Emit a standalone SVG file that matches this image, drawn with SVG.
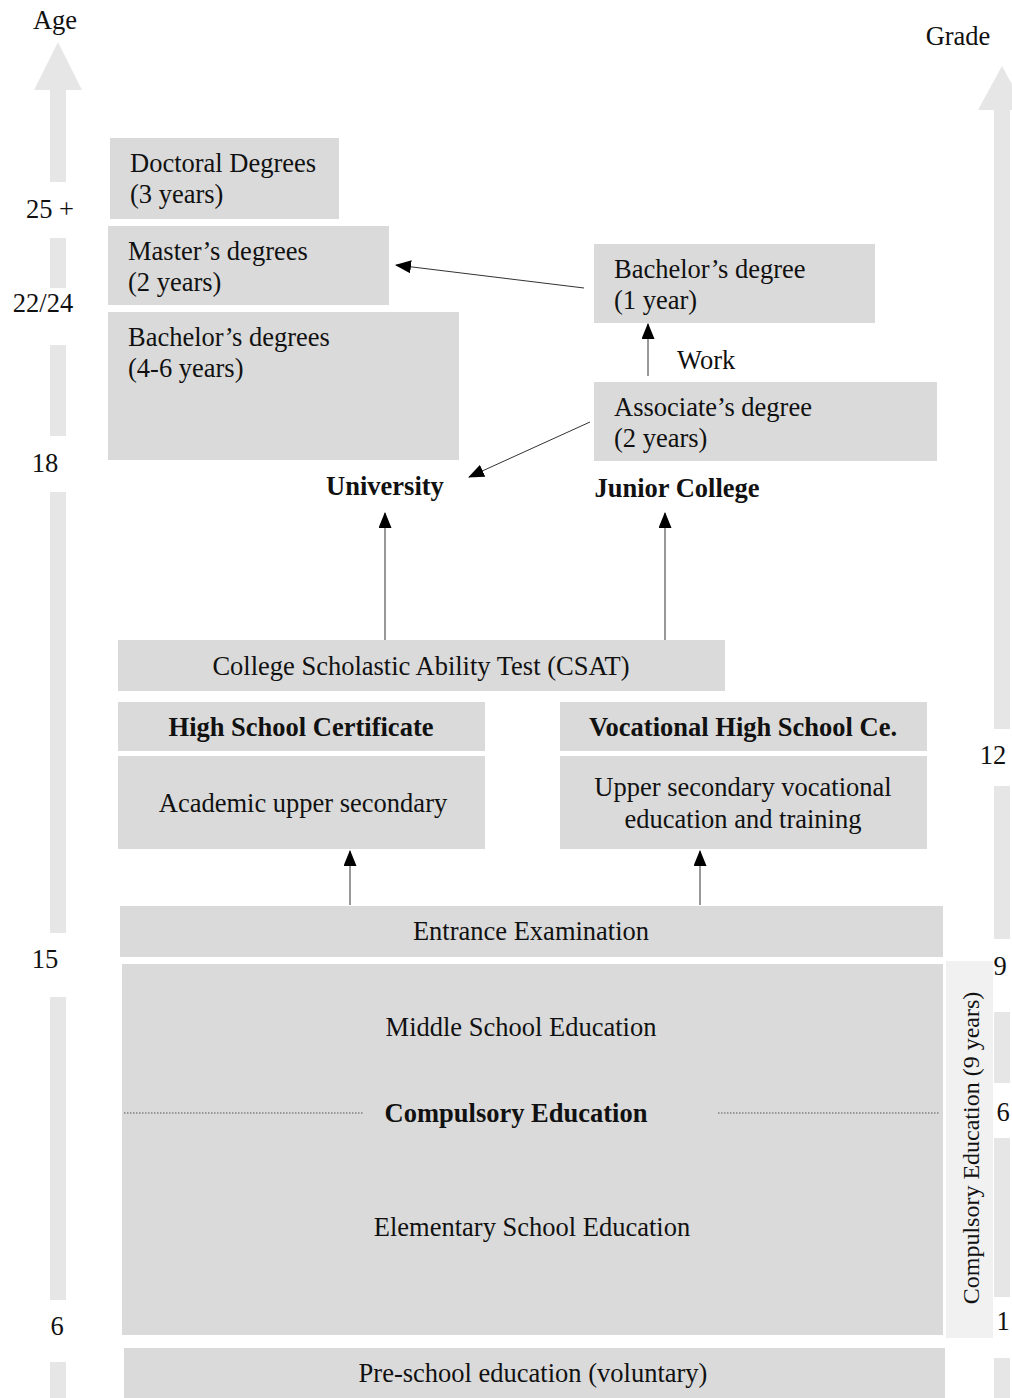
<svg xmlns="http://www.w3.org/2000/svg" width="1012" height="1398" viewBox="0 0 1012 1398">
  <style>
    text { font-family: "Liberation Serif", "Times New Roman", serif; font-size: 26.5px; fill: #111; }
    .b { font-weight: bold; }
    .m { text-anchor: middle; }
    .rot { font-size: 24px; }
    .box { fill: #dadada; }
    .bar { fill: #e6e6e6; }
    .conn { stroke: #333; stroke-width: 1; fill: none; marker-end: url(#ah); }
  </style>
  <defs>
    <marker id="ah" viewBox="0 0 16 13" refX="15" refY="6.5" markerWidth="16" markerHeight="13" markerUnits="userSpaceOnUse" orient="auto">
      <path d="M0,0 L16,6.5 L0,13 Z" fill="#000"/>
    </marker>
  </defs>
  <rect width="1012" height="1398" fill="#fff"/>

  <!-- Age axis -->
  <g id="age-axis">
    <polygon class="bar" points="58,42 82,90 34,90"/>
    <rect class="bar" x="50" y="89" width="16" height="93"/>
    <rect class="bar" x="50" y="238" width="16" height="50"/>
    <rect class="bar" x="50" y="345" width="16" height="91"/>
    <rect class="bar" x="50" y="492" width="16" height="441"/>
    <rect class="bar" x="50" y="997" width="16" height="303"/>
    <rect class="bar" x="50" y="1362" width="16" height="36"/>
    <text class="m" x="55" y="29">Age</text>
    <text class="m" x="50" y="218">25 +</text>
    <text class="m" x="43" y="312">22/24</text>
    <text class="m" x="45" y="472">18</text>
    <text class="m" x="45" y="968">15</text>
    <text class="m" x="57" y="1335">6</text>
  </g>

  <!-- Grade axis -->
  <g id="grade-axis">
    <polygon class="bar" points="1002,66 1026,110 978,110"/>
    <rect class="bar" x="994" y="109" width="16" height="620"/>
    <rect class="bar" x="994" y="786" width="16" height="153"/>
    <rect class="bar" x="994" y="1012" width="16" height="71"/>
    <rect class="bar" x="994" y="1138" width="16" height="159"/>
    <rect class="bar" x="994" y="1358" width="16" height="40"/>
    <text class="m" x="958" y="45">Grade</text>
    <text class="m" x="993" y="764">12</text>
    <text class="m" x="1000" y="975">9</text>
    <text class="m" x="1003" y="1121">6</text>
    <text class="m" x="1003" y="1330">1</text>
  </g>

  <!-- Compulsory span marker -->
  <g id="compulsory-span">
    <rect x="946" y="961" width="47" height="377" fill="#f1f1f1"/>
    <text class="m rot" transform="translate(979,1148) rotate(-90)">Compulsory Education (9 years)</text>
  </g>

  <g id="doctoral">
    <rect class="box" x="110" y="138" width="229" height="81"/>
    <text x="130" y="172">Doctoral Degrees</text>
    <text x="130" y="203">(3 years)</text>
  </g>
  <g id="masters">
    <rect class="box" x="108" y="226" width="281" height="79"/>
    <text x="128" y="260">Master’s degrees</text>
    <text x="128" y="291">(2 years)</text>
  </g>
  <g id="bachelors">
    <rect class="box" x="108" y="312" width="351" height="148"/>
    <text x="128" y="346">Bachelor’s degrees</text>
    <text x="128" y="377">(4-6 years)</text>
  </g>
  <g id="bachelor-1y">
    <rect class="box" x="594" y="244" width="281" height="79"/>
    <text x="614" y="278">Bachelor’s degree</text>
    <text x="614" y="309">(1 year)</text>
  </g>
  <g id="associate">
    <rect class="box" x="594" y="382" width="343" height="79"/>
    <text x="614" y="416">Associate’s degree</text>
    <text x="614" y="447">(2 years)</text>
  </g>
  <g id="university">
    <text class="b m" x="385" y="495">University</text>
  </g>
  <g id="junior-college">
    <text class="b m" x="677" y="497">Junior College</text>
  </g>
  <g id="csat">
    <rect class="box" x="118" y="640" width="607" height="51"/>
    <text class="m" x="421" y="675">College Scholastic Ability Test (CSAT)</text>
  </g>
  <g id="hs-certificate">
    <rect class="box" x="118" y="702" width="367" height="49"/>
    <text class="b m" x="301" y="736">High School Certificate</text>
  </g>
  <g id="academic">
    <rect class="box" x="118" y="756" width="367" height="93"/>
    <text class="m" x="303" y="812">Academic upper secondary</text>
  </g>
  <g id="vocational-certificate">
    <rect class="box" x="560" y="702" width="367" height="49"/>
    <text class="b m" x="743" y="736">Vocational High School Ce.</text>
  </g>
  <g id="vocational">
    <rect class="box" x="560" y="756" width="367" height="93"/>
    <text class="m" x="743" y="796">Upper secondary vocational</text>
    <text class="m" x="743" y="828">education and training</text>
  </g>
  <g id="entrance">
    <rect class="box" x="120" y="906" width="823" height="51"/>
    <text class="m" x="531" y="940">Entrance Examination</text>
  </g>
  <g id="compulsory">
    <rect class="box" x="122" y="964" width="821" height="371"/>
    <text class="m" x="521" y="1036">Middle School Education</text>
    <line x1="124" y1="1113" x2="364" y2="1113" stroke="#555" stroke-width="1" stroke-dasharray="1.5,1.5"/>
    <line x1="718" y1="1113" x2="940" y2="1113" stroke="#555" stroke-width="1" stroke-dasharray="1.5,1.5"/>
    <text class="b m" x="516" y="1122">Compulsory Education</text>
    <text class="m" x="532" y="1236">Elementary School Education</text>
  </g>
  <g id="preschool">
    <rect class="box" x="124" y="1348" width="821" height="50"/>
    <text class="m" x="533" y="1382">Pre-school education (voluntary)</text>
  </g>

  <!-- Connectors -->
  <g id="connectors">
    <line class="conn" x1="584" y1="288" x2="396" y2="265"/>
    <line class="conn" x1="648" y1="376" x2="648" y2="324"/>
    <text x="677" y="369">Work</text>
    <line class="conn" x1="590" y1="422" x2="469" y2="477"/>
    <line class="conn" x1="385" y1="640" x2="385" y2="513"/>
    <line class="conn" x1="665" y1="640" x2="665" y2="513"/>
    <line class="conn" x1="350" y1="905" x2="350" y2="851"/>
    <line class="conn" x1="700" y1="905" x2="700" y2="851"/>
  </g>
</svg>
